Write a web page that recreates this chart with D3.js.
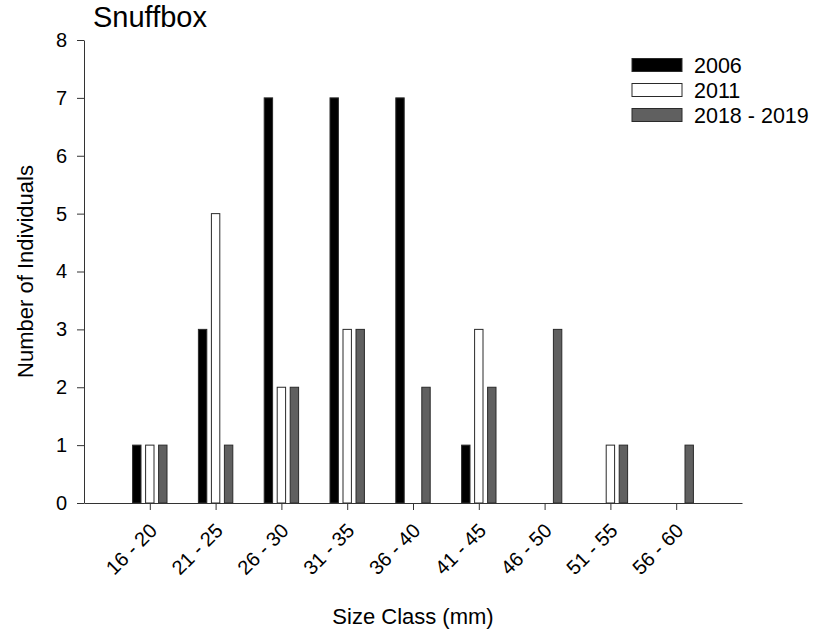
<!DOCTYPE html>
<html>
<head>
<meta charset="utf-8">
<script src="https://cdn.jsdelivr.net/npm/d3@7/dist/d3.min.js"></script>
<style>
  html, body { margin: 0; padding: 0; background: #fff; }
  svg { display: block; font-family: "Liberation Sans", Arial, sans-serif; }
</style>
</head>
<body>
<svg id="chart" width="817" height="633"></svg>
<script>
const categories = ["16 - 20", "21 - 25", "26 - 30", "31 - 35", "36 - 40", "41 - 45", "46 - 50", "51 - 55", "56 - 60"];
const seriesNames = ["2006", "2011", "2018 - 2019"];
const values2006 = [1, 3, 7, 7, 7, 1, 0, 0, 0];
const values2011 = [1, 5, 2, 3, 0, 3, 0, 1, 0];
const values2018 = [1, 1, 2, 3, 2, 2, 3, 1, 1];
const yTicks = [0, 1, 2, 3, 4, 5, 6, 7, 8];

const series = [values2006, values2011, values2018];
const fills = ["#000000", "#ffffff", "#606060"];

const svg = d3.select("#chart");
const plotLeft = 84, plotRight = 742, plotTop = 40, plotBottom = 503;

const x = d3.scaleLinear().domain([0, categories.length + 1]).range([plotLeft, plotRight]);
const y = d3.scaleLinear().domain([0, 8]).range([plotBottom, plotTop]);
const barStep = 13, barW = 8.4;

// bars
series.forEach((vals, si) => {
  svg.append("g").selectAll("rect")
    .data(vals.map((v, i) => ({v, i})).filter(d => d.v > 0))
    .join("rect")
    .attr("x", d => x(d.i + 1) + (si - 1) * barStep - barW / 2)
    .attr("y", d => y(d.v))
    .attr("width", barW)
    .attr("height", d => y(0) - y(d.v))
    .attr("fill", fills[si])
    .attr("stroke", "#2a2a2a")
    .attr("stroke-width", 1);
});

// y axis
const yAxis = svg.append("g")
  .attr("transform", `translate(${plotLeft},0)`)
  .call(d3.axisLeft(y).tickValues(yTicks).tickFormat(d3.format("d")).tickSize(7).tickPadding(10).tickSizeOuter(0));
yAxis.selectAll("text").attr("font-size", 20).attr("fill", "#000").attr("font-family", "Liberation Sans, Arial, sans-serif");
yAxis.selectAll("line, path").attr("stroke", "#333");

// x axis
const xAxis = svg.append("g")
  .attr("transform", `translate(0,${plotBottom})`)
  .call(d3.axisBottom(x).tickValues(d3.range(1, categories.length + 1)).tickFormat(d => categories[d - 1]).tickSize(7).tickSizeOuter(0));
xAxis.selectAll("line, path").attr("stroke", "#333");
xAxis.selectAll("text")
  .attr("font-size", 20)
  .attr("fill", "#000")
  .attr("font-family", "Liberation Sans, Arial, sans-serif")
  .attr("text-anchor", "end")
  .attr("dy", null)
  .attr("y", null)
  .attr("transform", "translate(8,29) rotate(-45)");

// title
svg.append("text").attr("x", 93).attr("y", 27).attr("font-size", 29).attr("fill", "#000").text("Snuffbox");

// axis labels
svg.append("text").attr("x", (plotLeft + plotRight) / 2).attr("y", 624).attr("text-anchor", "middle")
  .attr("font-size", 22).attr("fill", "#000").text("Size Class (mm)");
svg.append("text").attr("transform", `translate(33,${(plotTop + plotBottom) / 2}) rotate(-90)`).attr("text-anchor", "middle")
  .attr("font-size", 22).attr("fill", "#000").text("Number of Individuals");

// legend
const legend = svg.append("g");
seriesNames.forEach((name, i) => {
  const cy = 65 + i * 25;
  legend.append("rect").attr("x", 632).attr("y", cy - 6.5).attr("width", 50).attr("height", 13)
    .attr("fill", fills[i]).attr("stroke", "#2a2a2a").attr("stroke-width", 1);
  legend.append("text").attr("x", 694).attr("y", cy).attr("dy", "0.35em")
    .attr("font-size", 21.5).attr("fill", "#000").text(name);
});
</script>
</body>
</html>
